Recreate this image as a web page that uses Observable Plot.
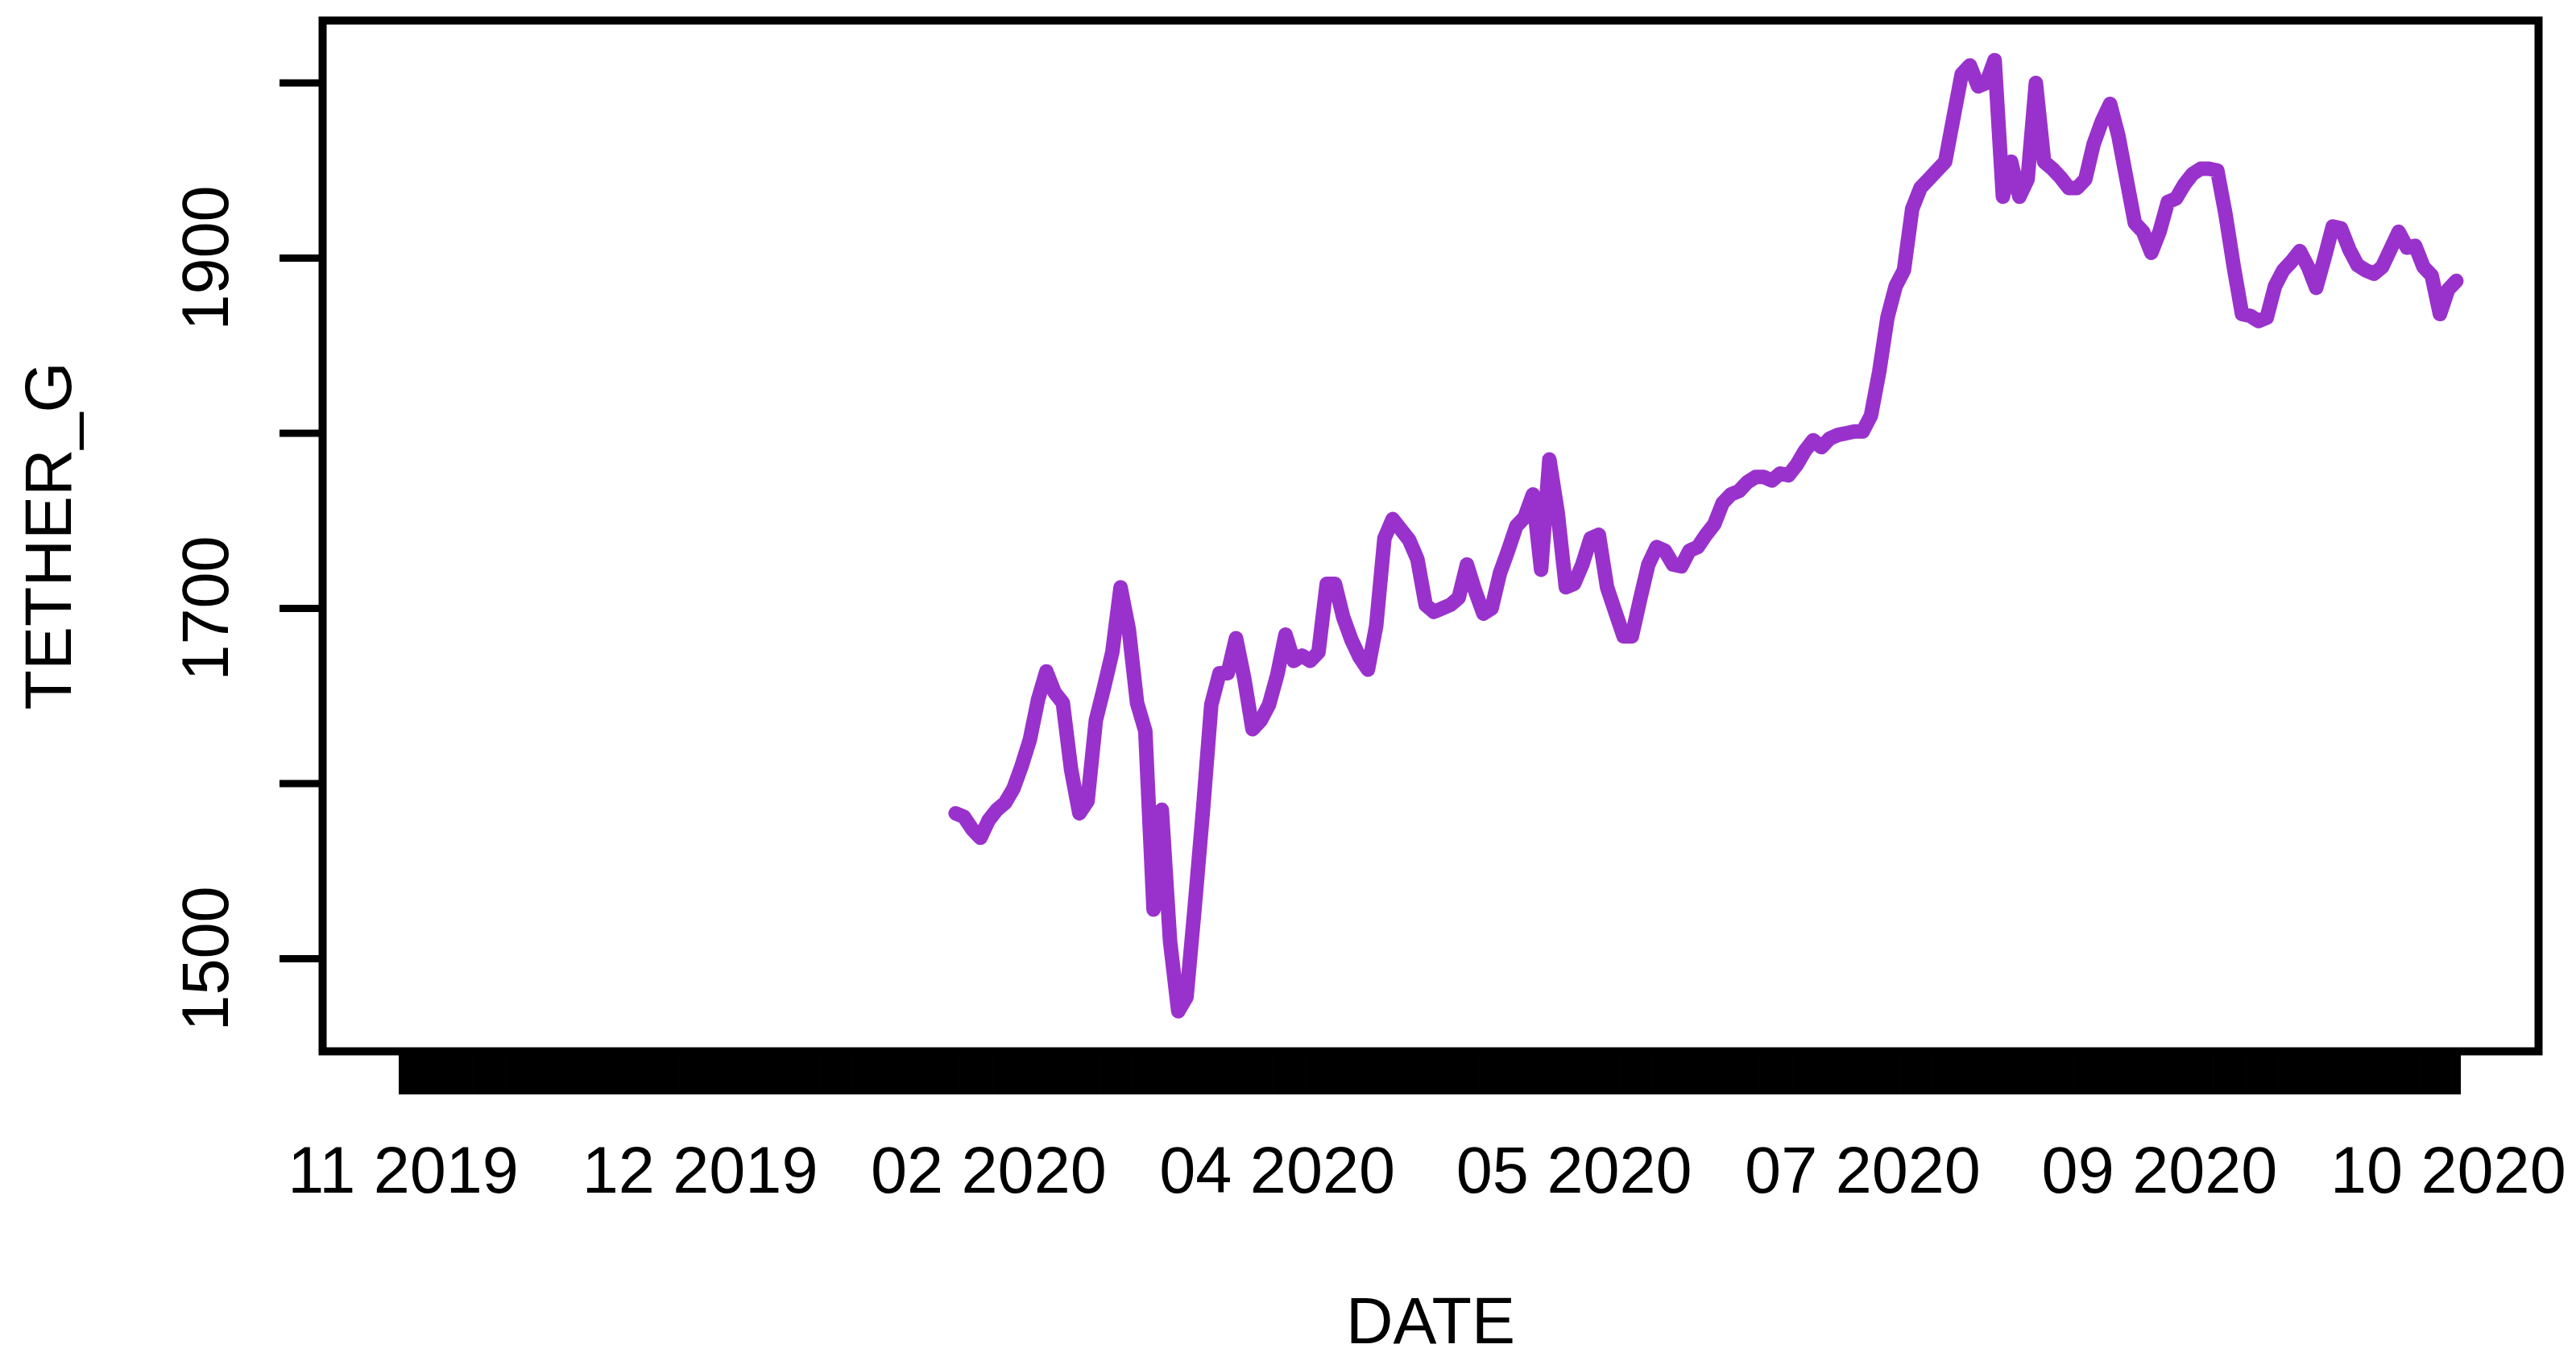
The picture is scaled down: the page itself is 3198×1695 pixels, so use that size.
<!DOCTYPE html>
<html>
<head>
<meta charset="utf-8">
<script src="https://cdn.jsdelivr.net/npm/d3@7"></script>
<script src="https://cdn.jsdelivr.net/npm/@observablehq/plot@0.6"></script>
<style>
  html, body { margin: 0; padding: 0; background: #ffffff; overflow: hidden; }
  #chart svg { display: block; }
</style>
</head>
<body>
<div id="chart"></div>
<script>
// Number of observations on the x index axis (one tick per observation)
const nObs = 250;
// First observation index that has a TETHER_G value (earlier ones are NA)
const firstIndex = 68;
// TETHER_G values for observations 68..250
const tetherG = [
  1583, 1581, 1574, 1569, 1579, 1585, 1589, 1597, 1610, 1625,
  1648, 1664, 1652, 1646, 1608, 1583, 1590, 1636, 1655, 1675,
  1712, 1688, 1646, 1630, 1528, 1585, 1510, 1470, 1478, 1530,
  1585, 1645, 1663, 1663, 1683, 1660, 1631, 1636, 1645, 1662,
  1685, 1670, 1673, 1670, 1675, 1714, 1714, 1695, 1682, 1672,
  1665, 1690, 1740, 1751, 1745, 1739, 1728, 1702, 1698, 1700,
  1702, 1706, 1725, 1710, 1697, 1700, 1720, 1733, 1747, 1752,
  1765, 1722, 1785, 1755, 1712, 1714, 1725, 1740, 1742, 1712,
  1698, 1684, 1684, 1705, 1725, 1735, 1733, 1725, 1724, 1733,
  1735, 1742, 1748, 1760, 1765, 1767, 1772, 1775, 1775, 1773,
  1777, 1776, 1782, 1790, 1796, 1792, 1797, 1799, 1800, 1801,
  1801, 1810, 1835, 1866, 1884, 1893, 1928, 1940, 1945, 1950,
  1955, 1980, 2005, 2010, 1998, 2000, 2013, 1935, 1955, 1935,
  1945, 2000, 1955, 1951, 1946, 1940, 1940, 1945, 1965, 1978,
  1988, 1970, 1945, 1920, 1915, 1903, 1915, 1932, 1934, 1942,
  1948, 1951, 1951, 1950, 1925, 1895, 1868, 1867, 1864, 1866,
  1884, 1893, 1898, 1904, 1895, 1883, 1900, 1918, 1917, 1905,
  1896, 1893, 1891, 1895, 1905, 1915, 1906, 1907, 1895, 1890,
  1868, 1882, 1887
];
// X tick label positions (observation index) and texts
const xLabelIndex = [1, 37, 72, 107, 143, 178, 214, 249];
const xLabelText = ["11 2019", "12 2019", "02 2020", "04 2020", "05 2020", "07 2020", "09 2020", "10 2020"];
// Y ticks and which ones carry a label
const yTicks = [1500, 1600, 1700, 1800, 1900, 2000];
const yLabels = [1500, 1700, 1900];

const series = tetherG.map((v, k) => ({idx: firstIndex + k, value: v}));
const allIdx = d3.range(1, nObs + 1);

const font = "'Liberation Sans', Arial, Helvetica, sans-serif";
const fs = 81;

const chart = Plot.plot({
  width: 3198,
  height: 1695,
  marginLeft: 400,
  marginRight: 47,
  marginTop: 25,
  marginBottom: 390,
  style: {fontFamily: font, fontSize: fs + "px", background: "#ffffff", color: "#000000"},
  x: {domain: [-8.77, 259.96], axis: null},
  y: {domain: [1447.1, 2035.6], axis: null},
  marks: [
    Plot.line(series, {x: "idx", y: "value", stroke: "#9932CC", strokeWidth: 18,
      strokeLinejoin: "round", strokeLinecap: "round"}),
    Plot.axisX({ticks: allIdx, tickSize: 54, strokeWidth: 11, text: null, tickFormat: () => "", label: null}),
    Plot.axisY({ticks: yTicks, tickSize: 53, strokeWidth: 9, text: null, tickFormat: () => "", label: null}),
    Plot.frame({stroke: "#000000", strokeWidth: 10}),
    Plot.text(xLabelIndex, {x: d => d, text: (d, i) => xLabelText[i], frameAnchor: "bottom", dy: 175,
      textAnchor: "middle", fontSize: fs, fill: "#000000"}),
    Plot.text(yLabels, {y: d => d, text: d => String(d), frameAnchor: "left", dx: -143, rotate: -90,
      textAnchor: "middle", fontSize: fs, fill: "#000000"}),
    Plot.text(["DATE"], {text: d => d, frameAnchor: "bottom", dy: 362, textAnchor: "middle", fontSize: fs, fill: "#000000"}),
    Plot.text(["TETHER_G"], {text: d => d, frameAnchor: "left", dx: -338, rotate: -90, textAnchor: "middle",
      fontSize: fs, fill: "#000000"})
  ]
});
document.getElementById("chart").appendChild(chart);
</script>
</body>
</html>
